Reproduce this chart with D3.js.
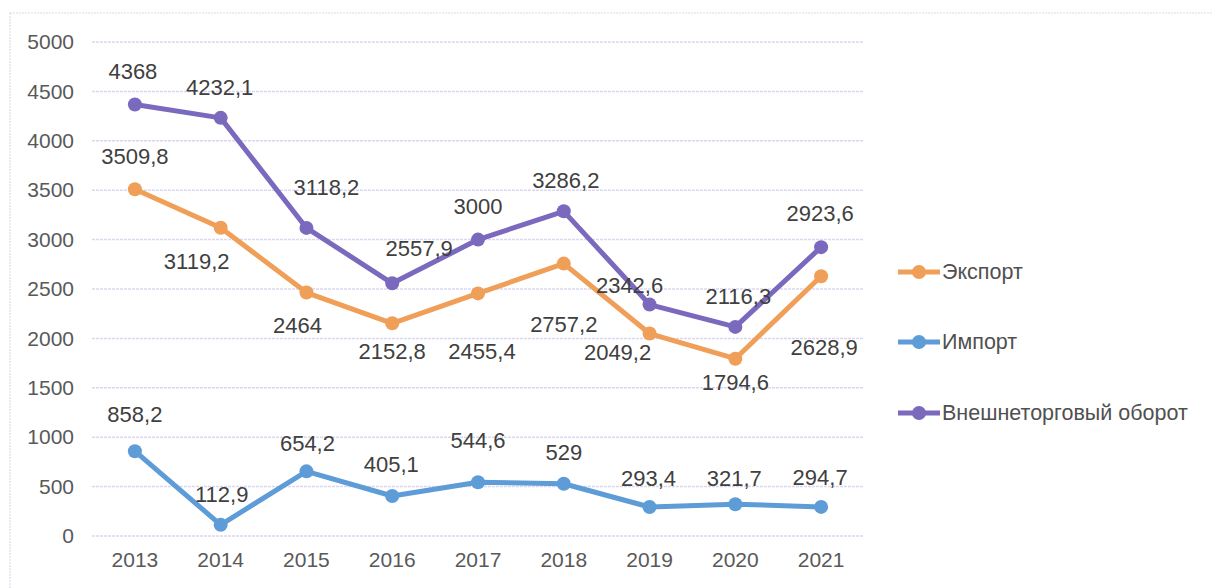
<!DOCTYPE html>
<html>
<head>
<meta charset="utf-8">
<script src="https://cdn.jsdelivr.net/npm/d3@7"></script>
<style>
  body { margin: 0; background: #fff; }
  text { font-family: "Liberation Sans", Arial, sans-serif; }
</style>
</head>
<body>
<div id="chart"></div>
<script>
// data
var years = ["2013","2014","2015","2016","2017","2018","2019","2020","2021"];
var exportVals = [3509.8, 3119.2, 2464, 2152.8, 2455.4, 2757.2, 2049.2, 1794.6, 2628.9];
var importVals = [858.2, 112.9, 654.2, 405.1, 544.6, 529, 293.4, 321.7, 294.7];
var turnoverVals = [4368, 4232.1, 3118.2, 2557.9, 3000, 3286.2, 2342.6, 2116.3, 2923.6];
var seriesNames = ["Экспорт", "Импорт", "Внешнеторговый оборот"];
var yTicks = [0, 500, 1000, 1500, 2000, 2500, 3000, 3500, 4000, 4500, 5000];

// label offsets (px) relative to each point
var exportOff = [[0,-33],[-24,34],[-9,33],[0,28],[4,58],[0,61],[-32,19],[0,24],[3,71]];
var importOff = [[0,-37],[1,-30],[1,-28],[-1,-31],[0,-42],[0,-31],[-1,-29],[-1,-26],[-1,-29]];
var turnoverOff = [[-2,-33],[-1,-30],[20,-40],[27,-35],[0,-33],[2,-31],[-20,-19],[3,-30],[-1,-34]];

var colors = ["#F09F58", "#5E9CD8", "#7B69BE"];

var W = 1212, H = 588;
var svg = d3.select("#chart").append("svg")
  .attr("width", W).attr("height", H);

// outer frame
svg.append("rect")
  .attr("x", 10).attr("y", 13)
  .attr("width", W + 20).attr("height", H + 20)
  .attr("fill", "none")
  .attr("stroke", "#dcdcee")
  .attr("stroke-width", 1.2)
  .attr("stroke-dasharray", "2,1");

var x = d3.scaleBand().domain(years).range([92, 864]);
var y = d3.scaleLinear().domain([0, 5000]).range([536, 42]);
var cx = function(d) { return x(d) + x.bandwidth() / 2; };

// gridlines
svg.append("g").selectAll("line")
  .data(yTicks).enter().append("line")
  .attr("x1", 92).attr("x2", 864)
  .attr("y1", function(d){ return y(d); })
  .attr("y2", function(d){ return y(d); })
  .attr("stroke", "#dad8f0")
  .attr("stroke-width", 1.5)
  .attr("stroke-dasharray", "3,1");

// y axis labels
var yAxis = svg.append("g")
  .attr("transform", "translate(74,0)")
  .call(d3.axisLeft(y).tickValues(yTicks).tickSize(0).tickPadding(0).tickFormat(d3.format("d")));
yAxis.select(".domain").remove();
yAxis.selectAll("text")
  .attr("font-size", "21px")
  .attr("fill", "#595959")
  .style("font-family", "Liberation Sans, Arial, sans-serif");

// x axis labels
var xAxis = svg.append("g")
  .attr("transform", "translate(0,552)")
  .call(d3.axisBottom(x).tickSize(0).tickPadding(0));
xAxis.select(".domain").remove();
xAxis.selectAll("text")
  .attr("font-size", "21px")
  .attr("fill", "#595959")
  .attr("dy", "0.71em")
  .style("font-family", "Liberation Sans, Arial, sans-serif");

var fmt = function(v) { return String(v).replace(".", ","); };

var series = [
  {name: seriesNames[0], vals: exportVals, off: exportOff, color: colors[0]},
  {name: seriesNames[1], vals: importVals, off: importOff, color: colors[1]},
  {name: seriesNames[2], vals: turnoverVals, off: turnoverOff, color: colors[2]}
];

var line = d3.line()
  .x(function(d){ return cx(d.year); })
  .y(function(d){ return y(d.v); });

series.forEach(function(s) {
  var pts = years.map(function(yr, i){ return {year: yr, v: s.vals[i], off: s.off[i]}; });
  var g = svg.append("g");
  g.append("path")
    .datum(pts)
    .attr("d", line)
    .attr("fill", "none")
    .attr("stroke", s.color)
    .attr("stroke-width", 5)
    .attr("stroke-linejoin", "round");
  g.selectAll("circle")
    .data(pts).enter().append("circle")
    .attr("cx", function(d){ return cx(d.year); })
    .attr("cy", function(d){ return y(d.v); })
    .attr("r", 7)
    .attr("fill", s.color);
  g.selectAll("text")
    .data(pts).enter().append("text")
    .attr("x", function(d){ return cx(d.year) + d.off[0]; })
    .attr("y", function(d){ return y(d.v) + d.off[1]; })
    .attr("text-anchor", "middle")
    .attr("dominant-baseline", "central")
    .attr("font-size", "22px")
    .attr("fill", "#404040")
    .text(function(d){ return fmt(d.v); });
});

// legend
var legend = svg.append("g").selectAll("g")
  .data(series).enter().append("g")
  .attr("transform", function(d, i){ return "translate(898," + [272, 342, 413][i] + ")"; });
legend.append("line")
  .attr("x1", 0).attr("x2", 42)
  .attr("stroke", function(d){ return d.color; })
  .attr("stroke-width", 5);
legend.append("circle")
  .attr("cx", 21).attr("r", 7)
  .attr("fill", function(d){ return d.color; });
legend.append("text")
  .attr("x", 44)
  .attr("dominant-baseline", "central")
  .attr("font-size", "21.5px")
  .attr("fill", "#505050")
  .text(function(d){ return d.name; });
</script>
</body>
</html>
